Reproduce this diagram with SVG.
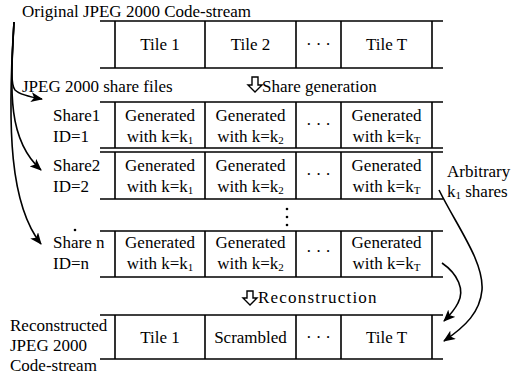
<svg xmlns="http://www.w3.org/2000/svg" width="513" height="374" viewBox="0 0 513 374">
<style>
text{font-family:"Liberation Serif","Times New Roman",serif;font-size:17px;fill:#000}
.c{text-anchor:middle}
.ln{stroke:#000;stroke-width:1.6;fill:none}
.sub{font-size:11px}
.dots{letter-spacing:4px}
.cn{stroke:#000;stroke-width:1.6;fill:none;marker-end:url(#ah)}
.ha{fill:#fff;stroke:#000;stroke-width:1.4}
</style>
<defs>
<marker id="ah" viewBox="0 0 12 10" refX="11" refY="5" markerWidth="12" markerHeight="10" markerUnits="userSpaceOnUse" orient="auto">
<path d="M0,0 L12,5 L0,10 L3,5 Z" fill="#000"/>
</marker>
</defs>
<rect width="513" height="374" fill="#fff"/>

<text x="22" y="17">Original JPEG 2000 Code-stream</text>
<text x="22" y="92">JPEG 2000 share files</text>

<g id="original">
<path class="ln" d="M100,21H443M100,68H443M115,21V68M205,21V68M296,21V68M341,21V68M432,21V68"/>
<text class="c" x="160" y="50">Tile 1</text>
<text class="c" x="250.5" y="50">Tile 2</text>
<text class="c dots" x="320.5" y="50">···</text>
<text class="c" x="386.5" y="50">Tile T</text>
</g>

<g id="share-gen">
<path class="ha" d="M252,77H258V85H262L255,92L248,85H252Z"/>
<text x="262" y="92">Share generation</text>
</g>

<g id="share1">
<path class="ln" d="M100,102H443M100,148H443M115,102V148M205,102V148M296,102V148M341,102V148M432,102V148"/>
<text x="53" y="121">Share1</text>
<text x="53" y="142">ID=1</text>
<text class="c" x="160" y="121">Generated</text>
<text class="c" x="160" y="142">with k=k<tspan class="sub" dy="2">1</tspan></text>
<text class="c" x="250.5" y="121">Generated</text>
<text class="c" x="250.5" y="142">with k=k<tspan class="sub" dy="2">2</tspan></text>
<text class="c dots" x="320.5" y="130">···</text>
<text class="c" x="386.5" y="121">Generated</text>
<text class="c" x="386.5" y="142">with k=k<tspan class="sub" dy="2">T</tspan></text>
</g>

<g id="share2">
<path class="ln" d="M100,152H443M100,199H443M115,152V199M205,152V199M296,152V199M341,152V199M432,152V199"/>
<text x="53" y="171">Share2</text>
<text x="53" y="192">ID=2</text>
<text class="c" x="160" y="171">Generated</text>
<text class="c" x="160" y="192">with k=k<tspan class="sub" dy="2">1</tspan></text>
<text class="c" x="250.5" y="171">Generated</text>
<text class="c" x="250.5" y="192">with k=k<tspan class="sub" dy="2">2</tspan></text>
<text class="c dots" x="320.5" y="180">···</text>
<text class="c" x="386.5" y="171">Generated</text>
<text class="c" x="386.5" y="192">with k=k<tspan class="sub" dy="2">T</tspan></text>
</g>

<g id="vdots">
<circle cx="287" cy="209" r="1.3" fill="#000"/>
<circle cx="287" cy="217" r="1.3" fill="#000"/>
<circle cx="287" cy="225" r="1.3" fill="#000"/>
<circle cx="75" cy="230" r="1.3" fill="#000"/>
</g>

<g id="sharen">
<path class="ln" d="M100,231H443M100,277H443M115,231V277M205,231V277M296,231V277M341,231V277M432,231V277"/>
<text x="53" y="248">Share n</text>
<text x="53" y="269">ID=n</text>
<text class="c" x="160" y="248">Generated</text>
<text class="c" x="160" y="269">with k=k<tspan class="sub" dy="2">1</tspan></text>
<text class="c" x="250.5" y="248">Generated</text>
<text class="c" x="250.5" y="269">with k=k<tspan class="sub" dy="2">2</tspan></text>
<text class="c dots" x="320.5" y="257">···</text>
<text class="c" x="386.5" y="248">Generated</text>
<text class="c" x="386.5" y="269">with k=k<tspan class="sub" dy="2">T</tspan></text>
</g>

<g id="recon">
<path class="ha" d="M247,291H253V298H257L250,305L243,298H247Z"/>
<text x="258" y="303" letter-spacing="1.2">Reconstruction</text>
</g>

<g id="reconstructed">
<path class="ln" d="M100,315H443M100,359H443M115,315V359M205,315V359M296,315V359M341,315V359M432,315V359"/>
<text x="10" y="331">Reconstructed</text>
<text x="10" y="351">JPEG 2000</text>
<text x="10" y="371">Code-stream</text>
<text class="c" x="160" y="343">Tile 1</text>
<text class="c" x="250.5" y="343">Scrambled</text>
<text class="c dots" x="320.5" y="343">···</text>
<text class="c" x="386.5" y="343">Tile T</text>
</g>

<g id="arbitrary">
<text x="447" y="177">Arbitrary</text>
<text x="447" y="197">k<tspan class="sub" dy="2">1</tspan><tspan dy="-2"> shares</tspan></text>
</g>

<g id="connectors">
<path class="cn" d="M14,22 C12,62 10,84 15,90 C20,95 30,97 42,99"/>
<path class="cn" d="M14,22 C10,95 8,140 41,170"/>
<path class="cn" d="M14,22 C7,130 10,205 41,244"/>
<path class="cn" d="M439,190 C458,228 484,262 482,290 C480,312 466,326 444,341"/>
<path class="cn" d="M442,263 C458,274 465,290 458,303 C454,311 449,316 444,321"/>
</g>
</svg>
